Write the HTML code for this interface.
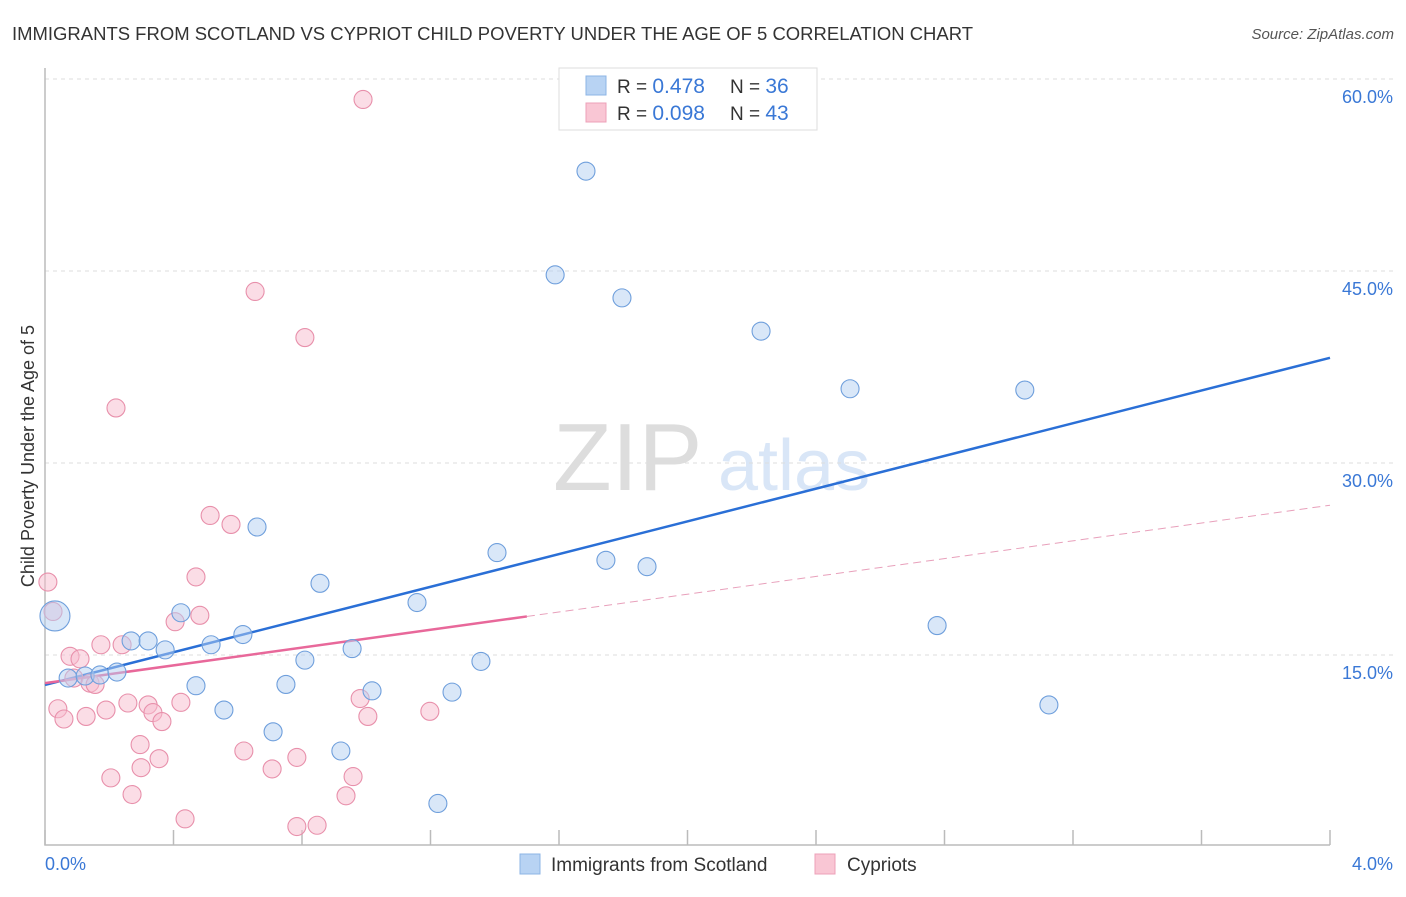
<!DOCTYPE html>
<html><head><meta charset="utf-8"><style>
body{margin:0;background:#fff;font-family:"Liberation Sans",sans-serif;}
svg text{font-family:"Liberation Sans",sans-serif;}
</style></head><body>
<svg id="chart" width="1406" height="892" xmlns="http://www.w3.org/2000/svg">
<text x="12" y="40" font-size="18" fill="#333" textLength="961" lengthAdjust="spacingAndGlyphs">IMMIGRANTS FROM SCOTLAND VS CYPRIOT CHILD POVERTY UNDER THE AGE OF 5 CORRELATION CHART</text>
<text x="1394" y="39" font-size="15" fill="#555" text-anchor="end" font-style="italic">Source: ZipAtlas.com</text>
<g>
<text x="553" y="490" font-size="96" fill="#ddd" font-family="Liberation Serif, serif">ZIP</text>
<text x="718" y="490" font-size="72" fill="#cfe0f5" fill-opacity="0.8">atlas</text>
</g>
<g id="grid"></g>
<g id="axes"></g>
<g id="lines"></g>
<g id="points"></g>
<g>
<rect x="559" y="68" width="258" height="62" fill="#fff" stroke="#ddd"/>
<rect x="586" y="76" width="20" height="19" fill="#b8d3f3" stroke="#8cb4e6"/>
<rect x="586" y="103" width="20" height="19" fill="#f9c6d4" stroke="#eda0b8"/>
<text x="617" y="93" font-size="19" fill="#333">R = <tspan fill="#3a78d6" font-size="21">0.478</tspan></text>
<text x="730" y="93" font-size="19" fill="#333">N = <tspan fill="#3a78d6" font-size="21">36</tspan></text>
<text x="617" y="120" font-size="19" fill="#333">R = <tspan fill="#3a78d6" font-size="21">0.098</tspan></text>
<text x="730" y="120" font-size="19" fill="#333">N = <tspan fill="#3a78d6" font-size="21">43</tspan></text>
</g>
<g>
<rect x="520" y="854" width="20" height="20" fill="#b8d3f3" stroke="#8cb4e6"/>
<text x="551" y="871" font-size="19" fill="#333">Immigrants from Scotland</text>
<rect x="815" y="854" width="20" height="20" fill="#f9c6d4" stroke="#eda0b8"/>
<text x="847" y="871" font-size="19" fill="#333">Cypriots</text>
</g>
<text transform="translate(34,456) rotate(-90)" font-size="18" fill="#333" text-anchor="middle">Child Poverty Under the Age of 5</text>
</svg>
<script>
const yTicks=[15,30,45,60];
const yTickLabels=["15.0%","30.0%","45.0%","60.0%"];
const xTicks=[0,0.4,0.8,1.2,1.6,2.0,2.4,2.8,3.2,3.6,4.0];
const blueX=[0.031,0.072,0.125,0.171,0.224,0.268,0.321,0.374,0.423,0.470,0.517,0.557,0.616,0.660,0.710,0.750,0.809,0.856,0.921,0.956,1.018,1.158,1.223,1.267,1.357,1.407,1.588,1.684,1.746,1.796,1.874,2.229,2.506,2.777,3.050,3.125];
const blueY=[18.05,13.2,13.36,13.44,13.67,16.1,16.1,15.4,18.3,12.6,15.8,10.7,16.6,25.0,9.0,12.7,14.6,20.6,7.5,15.5,12.2,19.1,3.4,12.1,14.5,23.0,44.7,52.8,22.4,42.9,21.9,40.3,35.8,17.3,35.7,11.1];
const pinkX=[0.009,0.025,0.040,0.059,0.078,0.090,0.109,0.128,0.140,0.156,0.174,0.190,0.205,0.221,0.240,0.258,0.271,0.296,0.299,0.321,0.336,0.355,0.364,0.405,0.423,0.436,0.470,0.482,0.514,0.579,0.619,0.654,0.707,0.784,0.784,0.809,0.847,0.937,0.959,0.981,0.990,1.005,1.198];
const pinkY=[20.7,18.4,10.8,10.0,14.9,13.2,14.7,10.2,12.8,12.7,15.8,10.7,5.4,34.3,15.8,11.25,4.1,8.0,6.2,11.1,10.5,6.9,9.8,17.6,11.3,2.2,21.1,18.1,25.9,25.2,7.5,43.4,6.1,1.6,7.0,39.8,1.7,4.0,5.5,11.6,58.4,10.2,10.6];
const blueTrend=[12.66,6.39]; // intercept, slope
const pinkTrend=[12.8,3.475];
const pinkSolidEnd=1.5;

const X=v=>45+v*321.25, Y=v=>847-v*12.8;
const NS="http://www.w3.org/2000/svg";
function mk(tag,parent,attrs){const e=document.createElementNS(NS,tag);for(const k in attrs)e.setAttribute(k,attrs[k]);document.getElementById(parent).appendChild(e);return e;}
yTicks.forEach((t,i)=>{
  const g=mk('line','grid',{x1:45,x2:1395,y1:Y(t),y2:Y(t),stroke:'#ddd','stroke-dasharray':'4,4'});
  
  
  const l=mk('text','grid',{x:1393,y:Y(t)+24,'font-size':18,fill:'#3a78d6','text-anchor':'end'});
  l.textContent=yTickLabels[i];
  
  
});
const ax=mk('path','axes',{d:`M45 68 V845 H1330`,stroke:'#bbb',fill:'none','stroke-width':1.5});


xTicks.forEach(t=>{
  const k=mk('line','axes',{x1:X(t),x2:X(t),y1:830,y2:845,stroke:'#bbb','stroke-width':1.5});
  
  
});
const xl0=mk('text','axes',{x:45,y:870,'font-size':18,fill:'#3a78d6'});xl0.textContent="0.0%";


const xl1=mk('text','axes',{x:1393,y:870,'font-size':18,fill:'#3a78d6','text-anchor':'end'});xl1.textContent="4.0%";



function dot(x,y,r,fill,stroke,name){
  const c=mk('circle','points',{cx:X(x),cy:Y(y),r:r,fill:fill,'fill-opacity':0.5,stroke:stroke,'stroke-width':1.1});
  
  
}
pinkX.forEach((x,i)=>dot(x,pinkY[i],9,'#f8bccd','#e890ab','cypriots-point'));
blueX.forEach((x,i)=>dot(x,blueY[i],i===0?15:9,'#b4d0f2','#6f9fdc','scotland-point'));

const bl=mk('line','lines',{x1:X(0),y1:Y(blueTrend[0]),x2:X(4),y2:Y(blueTrend[0]+4*blueTrend[1]),stroke:'#2a6fd6','stroke-width':2.5});


const pl=mk('line','lines',{x1:X(0),y1:Y(pinkTrend[0]),x2:X(pinkSolidEnd),y2:Y(pinkTrend[0]+pinkSolidEnd*pinkTrend[1]),stroke:'#e8689a','stroke-width':2.5});


const pd=mk('line','lines',{x1:X(pinkSolidEnd),y1:Y(pinkTrend[0]+pinkSolidEnd*pinkTrend[1]),x2:X(4),y2:Y(pinkTrend[0]+4*pinkTrend[1]),stroke:'#e8a0bb','stroke-width':1,'stroke-dasharray':'8,5'});


</script>
</body></html>
